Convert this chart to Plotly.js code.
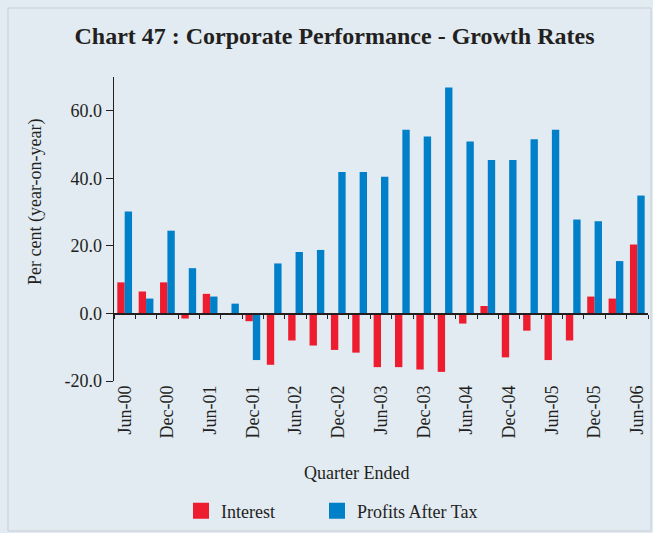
<!DOCTYPE html>
<html>
<head>
<meta charset="utf-8">
<script src="https://cdn.plot.ly/plotly-3.0.1.min.js"></script>
<style>html,body{margin:0;padding:0;background:#e2eaf2;}#chart{width:653px;height:533px;}</style>
</head>
<body>
<div id="chart"></div>
<script>
var quarters = ["Jun-00","Sep-00","Dec-00","Mar-01","Jun-01","Sep-01","Dec-01","Mar-02","Jun-02","Sep-02","Dec-02","Mar-03","Jun-03","Sep-03","Dec-03","Mar-04","Jun-04","Sep-04","Dec-04","Mar-05","Jun-05","Sep-05","Dec-05","Mar-06","Jun-06"];
var interest = [9.2,6.5,9.2,-1.5,5.8,0,-2.3,-15.2,-8.0,-9.5,-10.8,-11.6,-15.9,-15.9,-16.6,-17.3,-3.0,2.2,-13.0,-5.1,-13.8,-8.0,5.0,4.4,20.4];
var profits = [30.2,4.4,24.5,13.4,5.0,2.9,-13.8,14.8,18.2,18.8,41.9,41.9,40.5,54.4,52.4,66.9,50.9,45.4,45.4,51.6,54.4,27.8,27.3,15.5,34.9];
var labelTicks = ["Jun-00","Dec-00","Jun-01","Dec-01","Jun-02","Dec-02","Jun-03","Dec-03","Jun-04","Dec-04","Jun-05","Dec-05","Jun-06"];
var yTicks = [-20,0,20,40,60];
var yRange = [-20,70];

var font = "Liberation Serif, Times New Roman, serif";
var RED = "#ed1c2e", BLUE = "#0080c8";
var traces = [
  {type:"bar", name:"Interest", x:quarters, y:interest, marker:{color:RED}, showlegend:false},
  {type:"bar", name:"Profits After Tax", x:quarters, y:profits, marker:{color:BLUE}, showlegend:false},
  {type:"scatter", mode:"markers", name:"Interest", x:[null], y:[null], marker:{symbol:"square", size:20, color:RED}, legend:"legend"},
  {type:"scatter", mode:"markers", name:"Profits After Tax", x:[null], y:[null], marker:{symbol:"square", size:20, color:BLUE}, legend:"legend2"},
  {type:"scatter", x:[], y:[], xaxis:"x2", yaxis:"y", showlegend:false, hoverinfo:"skip"}
];
var L = 114, W = 534, T = 77, H = 304;
function px(x){return (x-L)/W;}
function py(y){return (T+H-y)/H;}
var zeroPos = (0 - yRange[0])/(yRange[1]-yRange[0]);
var legendBase = {orientation:"h", xref:"container", xanchor:"left", yref:"container", y:(533-511)/533, yanchor:"middle", font:{size:18, family:font}, bgcolor:"rgba(0,0,0,0)", borderwidth:0};
var layout = {
  width:653, height:533,
  paper_bgcolor:"#e2eaf2", plot_bgcolor:"#e2eaf2",
  margin:{l:L, r:653-L-W, t:T, b:533-T-H},
  font:{family:font, color:"#231f20", size:18},
  title:{text:"<b>Chart 47 : Corporate Performance - Growth Rates</b>", x:334.5/653, xref:"container", xanchor:"center", y:1-36/533, yref:"container", yanchor:"middle", font:{size:24, family:font, color:"#231f20"}},
  barmode:"group", bargap:0.31, bargroupgap:0,
  showlegend:true,
  legend:Object.assign({}, legendBase, {x:181/653}),
  legend2:Object.assign({}, legendBase, {x:317/653}),
  xaxis:{type:"category", range:[-0.5,24.5], tickmode:"array", tickvals:labelTicks, ticktext:labelTicks, tickangle:-90, showline:false, ticks:"", showgrid:false, zeroline:false, automargin:false, tickfont:{size:18, family:font}},
  xaxis2:{overlaying:"x", anchor:"free", position:zeroPos, range:[-0.5,24.5], showline:true, linecolor:"#231f20", linewidth:1.5, ticks:"outside", ticklen:4, tickcolor:"#231f20", tickmode:"linear", tick0:0.5, dtick:1, showticklabels:false, showgrid:false, zeroline:false, automargin:false},
  yaxis:{range:yRange, tickmode:"array", tickvals:yTicks, ticktext:yTicks.map(function(v){return v.toFixed(1);}), ticks:"outside", ticklen:7, tickcolor:"#231f20", showline:true, linecolor:"#231f20", linewidth:1.5, showgrid:false, zeroline:false, automargin:false, tickfont:{size:18, family:font}},
  annotations:[
    {text:"Per cent (year-on-year)", textangle:-90, xref:"paper", yref:"paper", x:px(35), y:py(202), xanchor:"center", yanchor:"middle", showarrow:false, font:{size:18, family:font}},
    {text:"Quarter Ended", xref:"paper", yref:"paper", x:px(356), y:py(473), xanchor:"center", yanchor:"middle", showarrow:false, font:{size:18, family:font}}
  ],
  shapes:[{type:"rect", xref:"paper", yref:"paper", x0:px(8), x1:px(651), y0:py(531), y1:py(8), line:{color:"#c9ced3", width:1}, fillcolor:"rgba(0,0,0,0)", layer:"below"}]
};
Plotly.newPlot("chart", traces, layout, {displayModeBar:false, staticPlot:true});
</script>
</body>
</html>
